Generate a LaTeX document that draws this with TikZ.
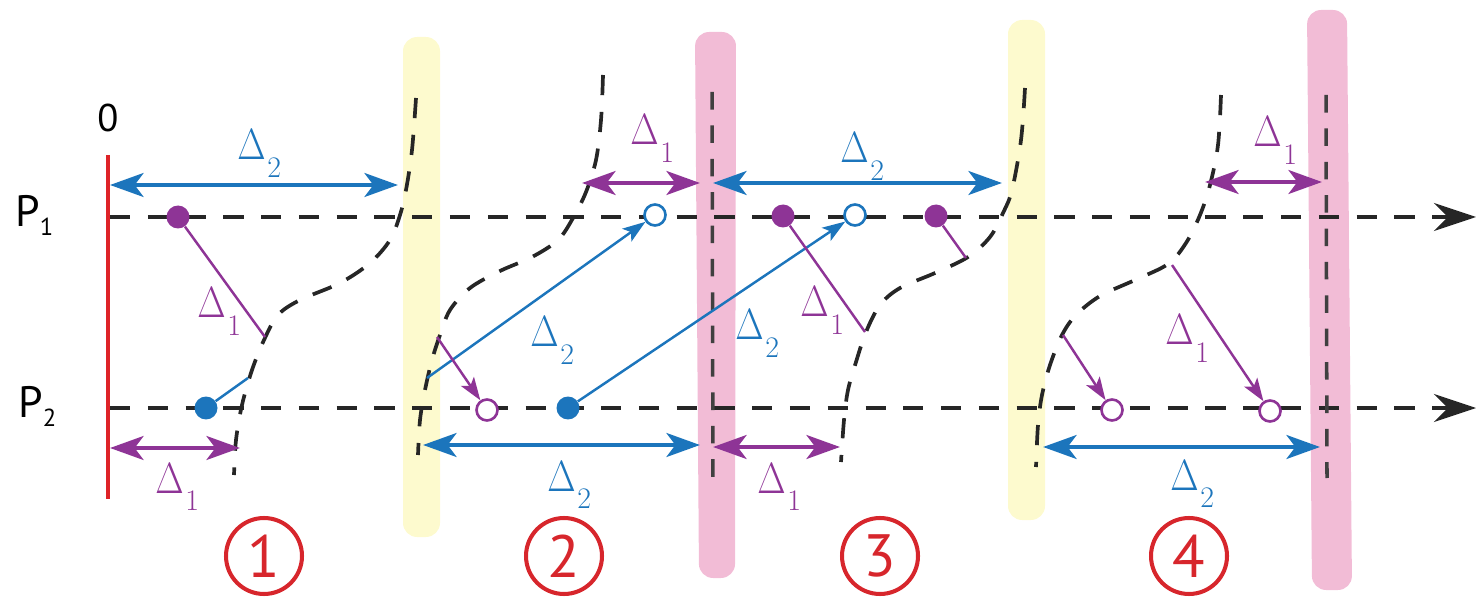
\documentclass[tikz,border=0pt]{standalone}
\usepackage{fontspec}
\newfontfamily\sansf{PT Sans}
\usetikzlibrary{arrows.meta}
\definecolor{cpurple}{RGB}{142,52,150}
\definecolor{cblue}{RGB}{28,117,188}
\definecolor{cred}{RGB}{222,35,40}
\definecolor{ccirc}{RGB}{215,38,44}
\definecolor{cyellow}{RGB}{253,250,206}
\definecolor{cpink}{RGB}{242,188,214}
\newcommand{\dlab}[1]{\fontsize{26}{26}\selectfont\scalebox{0.84}[1]{$\Delta$}\kern1pt\raisebox{-10pt}{\fontsize{17}{17}\selectfont\rmfamily #1}}
\newcommand{\plab}[1]{\sansf\fontsize{25}{25}\selectfont P\raisebox{-5pt}{\fontsize{14}{14}\selectfont #1}}
\tikzset{
  dsh/.style={line width=2.1pt, dash pattern=on 11.5pt off 9.5pt, black!85},
  vdsh/.style={line width=2pt, dash pattern=on 10pt off 9pt, black!75},
  axis/.style={line width=2pt, dash pattern=on 11.5pt off 10pt, black!85, -{Stealth[length=24pt,width=16pt,inset=8pt]}},
  thk/.style={line width=2.8pt, {Stealth[length=19pt,width=13.5pt,inset=5pt]}-{Stealth[length=19pt,width=13.5pt,inset=5pt]}},
  thn/.style={line width=1.4pt},
  thnarr/.style={line width=1.4pt, -{Stealth[length=13pt,width=9pt,inset=3pt]}},
  fdot/.style={circle, fill=#1, inner sep=0pt, minimum size=0.46cm},
  odot/.style={circle, draw=#1, fill=white, line width=1.5pt, inner sep=0pt, minimum size=0.42cm},
  lab/.style={anchor=base west, inner sep=0pt, text=#1},
  numc/.style={circle, draw=ccirc, line width=2.3pt, minimum size=1.52cm, inner sep=0pt, text=ccirc, font=\sansf\fontsize{34}{34}\selectfont},
  band/.style={fill=#1, rounded corners=8pt}
}
\begin{document}
\begin{tikzpicture}[x=0.02cm,y=-0.02cm]
\useasboundingbox (0,0) rectangle (1477,604);
% bands
\fill[band=cyellow] (403,37) rectangle (440,537);
\fill[band=cyellow] (1008,20) rectangle (1045,520);
\fill[band=cpink] (695,32) -- (736,32) -- (735,578) -- (699,578) -- cycle;
\fill[band=cpink] (1307,10) -- (1347,10) -- (1352,590) -- (1312,590) -- cycle;

% red origin line
\coordinate (rtop) at (108,155);
\coordinate (rbot) at (108,499);
\draw[cred, line width=2.8pt] (rtop) -- (rbot);
\node[font=\sansf\fontsize{22}{22}\selectfont, anchor=base, inner sep=0pt] (zero) at (108,132) {0};

% axes
\node[lab=black] (p1) at (15,227) {\plab{1}};
\node[lab=black] (p2) at (18,418) {\plab{2}};
\coordinate (a1s) at (110,217);
\coordinate (a1e) at (1476,217);
\coordinate (a2s) at (110,408);
\coordinate (a2e) at (1476,408);
\draw[axis] (a1s) -- (a1e);
\draw[axis] (a2s) -- (a2e);

% vertical dashed lines in pink bands
\coordinate (v1t) at (712,92);
\coordinate (v1b) at (713,488);
\coordinate (v2t) at (1326,95);
\coordinate (v2b) at (1327,478);
\draw[vdsh] (v1t) -- (v1b);
\draw[vdsh] (v2t) -- (v2b);

% dashed profile curves
\draw[dsh] plot[smooth, tension=0.55] coordinates {(416,98) (412,150) (406,190) (400,215) (390,240) (370,263) (340,283) (300,300) (278,315) (264,340) (252,370) (242,405) (236,440) (234,475)};
\draw[dsh] plot[smooth, tension=0.55] coordinates {(603,75) (601,120) (596,160) (586,192) (573,218) (558,240) (532,257) (500,271) (470,288) (450,310) (440,335) (432,360) (425,390) (420,420) (418,455)};
\draw[dsh] plot[smooth, tension=0.55] coordinates {(1025,88) (1021,140) (1012,190) (1003,213) (990,237) (968,257) (935,273) (900,288) (880,305) (866,332) (856,362) (848,390) (844,420) (841,462)};
\draw[dsh] plot[smooth, tension=0.55] coordinates {(1221,95) (1218,145) (1210,185) (1200,215) (1186,243) (1168,264) (1135,280) (1100,296) (1076,315) (1062,335) (1050,365) (1042,395) (1038,425) (1036,467)};

% top double arrows
\coordinate (t1a) at (110,185); \coordinate (t1b) at (398,185);
\coordinate (t2a) at (582,183); \coordinate (t2b) at (700,183);
\coordinate (t3a) at (713,183); \coordinate (t3b) at (1002,183);
\coordinate (t4a) at (1205,182); \coordinate (t4b) at (1322,182);
\draw[thk, cblue] (t1a) -- (t1b);
\draw[thk, cpurple] (t2a) -- (t2b);
\draw[thk, cblue] (t3a) -- (t3b);
\draw[thk, cpurple] (t4a) -- (t4b);
\node[lab=cblue] (lt1) at (237,160) {\dlab{2}};
\node[lab=cpurple] (lt2) at (630,145) {\dlab{1}};
\node[lab=cblue] (lt3) at (840,163) {\dlab{2}};
\node[lab=cpurple] (lt4) at (1253,147) {\dlab{1}};

% bottom double arrows
\coordinate (b1a) at (110,448); \coordinate (b1b) at (240,448);
\coordinate (b2a) at (423,445); \coordinate (b2b) at (700,445);
\coordinate (b3a) at (713,447); \coordinate (b3b) at (840,447);
\coordinate (b4a) at (1043,447); \coordinate (b4b) at (1320,447);
\draw[thk, cpurple] (b1a) -- (b1b);
\draw[thk, cblue] (b2a) -- (b2b);
\draw[thk, cpurple] (b3a) -- (b3b);
\draw[thk, cblue] (b4a) -- (b4b);
\node[lab=cpurple] (lb1) at (155,493) {\dlab{1}};
\node[lab=cblue] (lb2) at (547,491) {\dlab{2}};
\node[lab=cpurple] (lb3) at (757,493) {\dlab{1}};
\node[lab=cblue] (lb4) at (1170,490) {\dlab{2}};

% region 1
\node[fdot=cpurple] (d1) at (178,217) {};
\coordinate (k1) at (265,337);
\draw[thn, cpurple] (d1) -- (k1);
\node[lab=cpurple] (lm1) at (197,318) {\dlab{1}};
\node[fdot=cblue] (d2) at (206,408) {};
\coordinate (k2) at (248,378);
\draw[thn, cblue] (d2) -- (k2);

% region 2
\node[odot=cblue] (o1) at (655,215) {};
\coordinate (k3) at (427,378);
\draw[thnarr, cblue] (k3) -- (o1);
\node[odot=cpurple] (o2) at (487,410) {};
\coordinate (k4) at (437,337);
\draw[thnarr, cpurple] (k4) -- (o2);
\node[fdot=cblue] (d3) at (568,408) {};
\node[odot=cblue] (o3) at (855,215) {};
\draw[thnarr, cblue] (d3) -- (o3);
\node[lab=cblue] (lm2) at (530,347) {\dlab{2}};
\node[lab=cblue] (lm3) at (735,340) {\dlab{2}};

% region 3
\node[fdot=cpurple] (d4) at (783,216) {};
\coordinate (k5) at (865,332);
\draw[thn, cpurple] (d4) -- (k5);
\node[lab=cpurple] (lm4) at (800,317) {\dlab{1}};
\node[fdot=cpurple] (d5) at (936,216) {};
\coordinate (k6) at (966,258);
\draw[thn, cpurple] (d5) -- (k6);

% region 4
\node[odot=cpurple] (o4) at (1112,410) {};
\coordinate (k7) at (1063,335);
\draw[thnarr, cpurple] (k7) -- (o4);
\node[odot=cpurple] (o5) at (1270,411) {};
\coordinate (k8) at (1172,265);
\draw[thnarr, cpurple] (k8) -- (o5);
\node[lab=cpurple] (lm5) at (1165,345) {\dlab{1}};

% circled numbers
\node[numc] (c1) at (264,556) {1};
\node[numc] (c2) at (564,556) {2};
\node[numc] (c3) at (880,556) {3};
\node[numc] (c4) at (1189,556) {4};
\end{tikzpicture}
\end{document}
